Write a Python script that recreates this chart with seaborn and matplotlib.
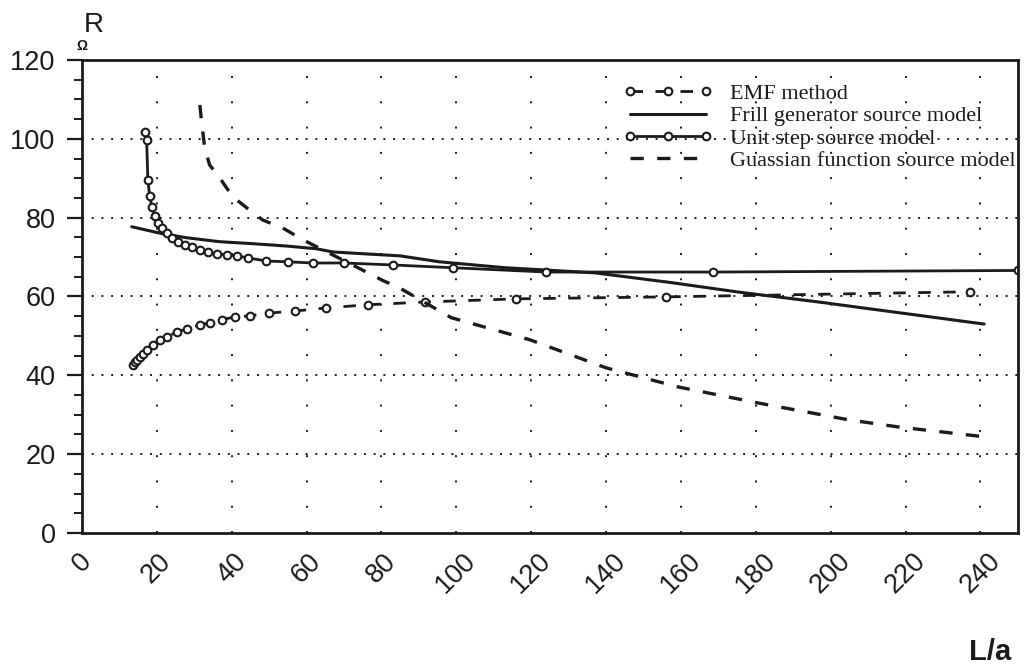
import matplotlib
matplotlib.use("Agg")
import matplotlib.pyplot as plt
import seaborn as sns
import pandas as pd
from matplotlib.ticker import MultipleLocator

# values (R in ohm vs L/a)
emf_x = [13.6, 14.2, 14.8, 15.5, 16.2, 17.3, 18.9, 20.8, 22.7, 25.3, 28.0, 31.5, 34.1, 37.3,
         40.8, 44.8, 50.1, 56.8, 65.3, 76.3, 91.7, 116.0, 156.0, 237.3]
emf_y = [42.6, 43.4, 44.0, 44.7, 45.4, 46.4, 47.7, 49.0, 49.7, 51.0, 51.8, 52.8, 53.3, 54.1,
         54.8, 55.1, 55.8, 56.3, 57.1, 57.9, 58.6, 59.4, 59.9, 61.2]

frill_x = [13.3, 21.6, 28.0, 36.8, 45.6, 54.7, 62.7, 67.0, 85.0, 95.5, 113.0, 137.0, 157.6,
           175.5, 196.8, 241.0]
frill_y = [77.7, 75.9, 74.9, 73.9, 73.4, 72.8, 72.1, 71.3, 70.3, 68.8, 67.3, 66.0, 63.5,
           61.1, 58.6, 53.0]

unit_x = [16.8, 17.3, 17.6, 18.1, 18.7, 19.5, 20.3, 21.3, 22.7, 24.0, 25.6, 27.5, 29.3, 31.5,
          33.6, 36.0, 38.7, 41.3, 44.3, 49.3, 55.0, 61.6, 70.0, 83.0, 99.0, 124.0, 168.5, 250.0]
unit_y = [101.8, 99.7, 89.6, 85.5, 82.7, 80.5, 78.7, 77.4, 76.1, 74.9, 73.9, 73.1, 72.6, 71.8,
          71.3, 70.8, 70.6, 70.3, 69.8, 69.0, 68.8, 68.5, 68.5, 68.0, 67.3, 66.2, 66.2, 66.6]

gauss_x = [31.5, 32.0, 32.8, 34.1, 36.8, 40.3, 44.0, 48.3, 53.6, 59.0, 69.6, 80.5, 84.8, 98.7,
           119.7, 140.0, 159.0, 180.5, 204.8, 218.0, 241.0]
gauss_y = [108.6, 104.0, 97.7, 93.4, 90.1, 85.3, 82.5, 79.4, 77.4, 74.4, 69.3, 64.0, 62.2, 54.6,
           49.0, 41.9, 37.1, 33.0, 28.7, 26.9, 24.4]

labels = ["EMF method", "Frill generator source model", "Unit step source model",
          "Guassian function source model"]
x_ticks = list(range(0, 241, 20))
y_ticks = list(range(0, 121, 20))

sns.set_style("white")
plt.rcParams["font.family"] = ["Liberation Sans", "DejaVu Sans"]

INK = "#1b1b1b"

fig = plt.figure(figsize=(10.24, 6.67), dpi=100)
ax = fig.add_axes([0.080, 0.201, 0.914, 0.709])

df_emf = pd.DataFrame({"x": emf_x, "y": emf_y})
df_frill = pd.DataFrame({"x": frill_x, "y": frill_y})
df_unit = pd.DataFrame({"x": unit_x, "y": unit_y})
df_gauss = pd.DataFrame({"x": gauss_x, "y": gauss_y})

sns.lineplot(data=df_emf, x="x", y="y", ax=ax, sort=False, color=INK, lw=2,
             linestyle=(0, (4.5, 4.5)), marker="o", markersize=5.5, markerfacecolor="white",
             markeredgecolor=INK, markeredgewidth=1.5, label=labels[0])
sns.lineplot(data=df_frill, x="x", y="y", ax=ax, sort=False, color=INK, lw=2.2,
             label=labels[1])
sns.lineplot(data=df_unit, x="x", y="y", ax=ax, sort=False, color=INK, lw=2,
             marker="o", markersize=5.5, markerfacecolor="white",
             markeredgecolor=INK, markeredgewidth=1.5, label=labels[2])
sns.lineplot(data=df_gauss, x="x", y="y", ax=ax, sort=False, color=INK, lw=2.4,
             linestyle=(0, (4, 4)), label=labels[3])

ax.set_xlim(0, 250)
ax.set_ylim(0, 120)
ax.set_xticks(x_ticks)
ax.set_yticks(y_ticks)
ax.yaxis.set_minor_locator(MultipleLocator(5))
ax.set_xlabel("")
ax.set_ylabel("")

# dotted grid, denser dots on the horizontal lines
for v in y_ticks[1:-1]:
    ax.axhline(v, color=INK, lw=1.4, linestyle=(0, (1, 4)), zorder=0)
for v in x_ticks[1:]:
    ax.axvline(v, color=INK, lw=1.4, linestyle=(0, (1, 12)), zorder=0)

for s in ax.spines.values():
    s.set_linewidth(2)
    s.set_color(INK)

ax.tick_params(axis="y", which="major", direction="out", length=11, width=1.6,
               pad=8, labelsize=19.5, colors=INK, left=True)
ax.tick_params(axis="y", which="minor", direction="out", length=6, width=1.4,
               colors=INK, left=True)
ax.tick_params(axis="x", which="both", length=0, pad=11, labelsize=19.5, colors=INK)
for t in ax.get_xticklabels():
    t.set_rotation(45)
    t.set_ha("center")

leg = ax.legend(loc="upper right", bbox_to_anchor=(1.0, 0.955), frameon=False,
                prop={"family": "Liberation Serif", "size": 16}, handlelength=4.0,
                handletextpad=0.8, labelspacing=0.08, numpoints=3, borderaxespad=0.0,
                borderpad=0.1)
for t in leg.get_texts():
    t.set_color(INK)

fig.text(0.092, 0.963, "R", fontsize=20, ha="center", va="center", color=INK)
fig.text(0.080, 0.931, "\u03a9", fontsize=10, fontweight="bold", ha="center",
         va="center", color=INK)
fig.text(0.967, 0.022, "L/a", fontsize=21, fontweight="bold", ha="center",
         va="center", color=INK)

fig.savefig("out.png", dpi=100)
plt.close(fig)
